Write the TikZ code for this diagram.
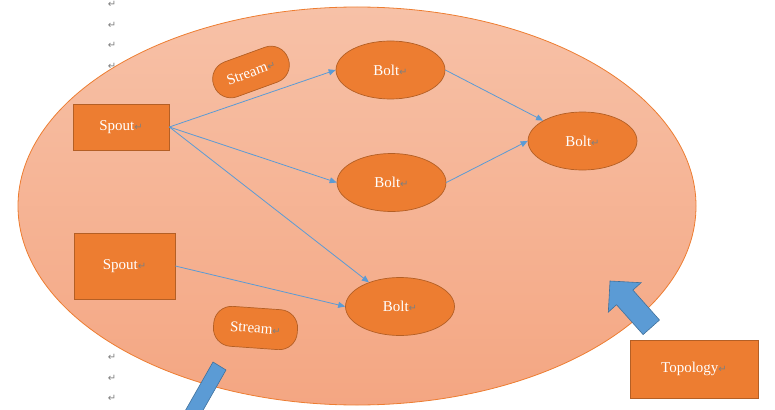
\documentclass[tikz,border=0pt]{standalone}
\usepackage{fontspec}
\setmainfont{Liberation Serif}
\newfontfamily\symfont{DejaVu Sans}
\usetikzlibrary{positioning, calc, arrows.meta, shapes.geometric}

\definecolor{cOrange}{HTML}{ED7D31}   % node fill
\definecolor{cEdge}{HTML}{B45F25}     % node outline
\definecolor{cTop}{HTML}{F7C1A7}      % topology ellipse, top
\definecolor{cBot}{HTML}{F4A682}      % topology ellipse, bottom
\definecolor{cBlue}{HTML}{5B9BD5}     % connectors
\definecolor{cBlueEdge}{HTML}{41719C}
\definecolor{cMark}{HTML}{7F7F7F}     % return marks

\newcommand{\retmark}{{\symfont\color{cMark}\fontsize{10}{10}\selectfont ↵}}

\begin{document}
\begin{tikzpicture}[
  x=1pt, y=-1pt,
  font=\fontsize{15}{17}\selectfont,
  >={Triangle[length=7pt,width=6pt]},
  spoutbox/.style={draw=cEdge, line width=0.7pt, fill=cOrange, text=white,
                   inner sep=0pt},
  boltnode/.style={ellipse, draw=cEdge, line width=0.7pt, fill=cOrange,
                   text=white, minimum width=109pt, minimum height=58pt,
                   inner sep=0pt},
  streambox/.style={draw=cEdge, line width=0.7pt, fill=cOrange, text=white,
                    rounded corners=18pt, inner sep=0pt},
  flow/.style={cBlue, line width=0.8pt, ->},
  blockarrow/.style={fill=cBlue, draw=cBlueEdge, line width=0.6pt},
]
\useasboundingbox (0,0) rectangle (775,409);

% ---------- topology ellipse ----------
\shade[top color=cTop, bottom color=cBot]
  (357,206) ellipse [x radius=339, y radius=199];
\draw[cOrange, line width=0.8pt]
  (357,206) ellipse [x radius=339, y radius=199];

% ---------- return marks on the left margin ----------
\foreach \yy [count=\i] in {4,25,45,66,357,378,398}
  \node[inner sep=0pt] (retL\i) at (112,\yy) {\retmark};

% ---------- spouts ----------
\node[spoutbox, minimum width=96pt, minimum height=46pt] (spoutA) at (121,127)
  {Spout\retmark};
\node[spoutbox, minimum width=101pt, minimum height=66pt] (spoutB) at (124.5,266)
  {Spout\retmark};

% ---------- streams ----------
\node[streambox, minimum width=79pt, minimum height=37pt, rotate=20]
  (streamA) at (251,72) {Stream\retmark};
\node[streambox, minimum width=84pt, minimum height=40pt, rotate=-4]
  (streamB) at (255.5,328) {Stream\retmark};

% ---------- bolts ----------
\node[boltnode] (boltA) at (390.5,70)  {Bolt\retmark};
\node[boltnode] (boltB) at (391.5,182.5) {Bolt\retmark};
\node[boltnode] (boltC) at (400,306.5) {Bolt\retmark};
\node[boltnode] (boltD) at (582.5,141) {Bolt\retmark};

% ---------- connectors ----------
\draw[flow] (spoutA.east) -- (boltA.west);
\draw[flow] (spoutA.east) -- (boltB.west);
\draw[flow] (spoutA.east) -- (boltC);
\draw[flow] (spoutB.east) -- (boltC.west);
\draw[flow] (boltA.east) -- (boltD);
\draw[flow] (boltB.east) -- (boltD.west);

% ---------- topology label ----------
\node[spoutbox, minimum width=128pt, minimum height=58pt] (topo) at (694,369)
  {Topology\retmark};

% ---------- block arrows ----------
\filldraw[blockarrow]
  (610,281) -- (641.1,282.7) -- (632.9,290.1) -- (659.5,320)
  -- (643.1,334.6) -- (616.5,304.7) -- (608.3,312.1) -- cycle;
\begin{scope}
  \clip (0,0) rectangle (775,409);
  \filldraw[blockarrow]
    (213,362) -- (226,370) -- (196.3,422.1) -- (183.3,414.1) -- cycle;
\end{scope}

\end{tikzpicture}
\end{document}
